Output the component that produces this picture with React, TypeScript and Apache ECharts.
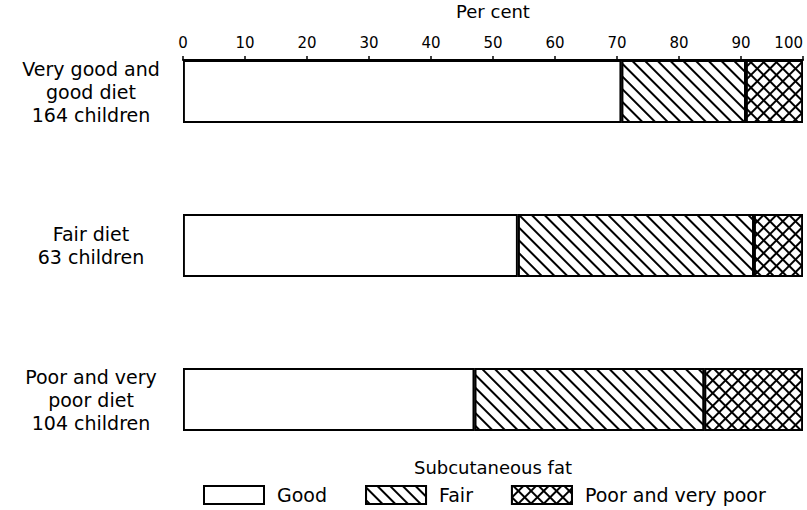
import React, { useEffect, useRef } from "react";
import * as echarts from "echarts";

const categories = [
  "Very good and\ngood diet\n164 children",
  "Fair diet\n63 children",
  "Poor and very\npoor diet\n104 children",
];
const seriesNames = ["Good", "Fair", "Poor and very poor"];
const good = [70.7, 54.0, 47.0];
const fair = [20.1, 38.1, 37.1];
const poor = [9.2, 7.9, 15.9];
const legendTitle = "Subcutaneous fat";
const axisTitle = "Per cent";

const FONT = "DejaVu Sans";

export default function App() {
  const ref = useRef<HTMLDivElement>(null);
  useEffect(() => {
    if (!ref.current) return;
    const chart = echarts.init(ref.current, null, { renderer: "svg" });
    const border = { borderColor: "#000", borderWidth: 1.9 };
    chart.setOption({
      animation: false,
      backgroundColor: "#fff",
      textStyle: { fontFamily: FONT, color: "#000" },
      grid: { left: 183, right: 4, top: 14.5, bottom: 33.5, outerBoundsMode: "none", containLabel: false },
      xAxis: {
        type: "value",
        position: "top",
        offset: -45.5,
        min: 0,
        max: 100,
        interval: 10,
        name: axisTitle,
        nameLocation: "middle",
        nameGap: 40,
        nameTextStyle: { fontSize: 18, color: "#000", fontFamily: FONT },
        axisLine: { show: true, lineStyle: { color: "#000", width: 2 } },
        axisTick: { show: true, length: 4, lineStyle: { color: "#000", width: 1.5 } },
        axisLabel: { color: "#000", fontSize: 15, margin: 10, fontFamily: FONT, alignMaxLabel: "right" },
        splitLine: { show: false },
      },
      yAxis: {
        type: "category",
        inverse: true,
        data: categories,
        axisLine: { show: false },
        axisTick: { show: false },
        axisLabel: {
          color: "#000",
          fontSize: 19,
          lineHeight: 23,
          align: "center",
          margin: 92,
          fontFamily: FONT,
        },
      },
      legend: {
        data: seriesNames,
        left: 203,
        top: 485,
        padding: 0,
        itemWidth: 60,
        itemHeight: 18,
        itemGap: 38,
        icon: "rect",
        textStyle: { fontSize: 19, color: "#000", fontFamily: FONT, padding: [0, 0, 0, 8] },
      },
      graphic: [
        {
          type: "text",
          x: 493,
          y: 467,
          style: {
            text: legendTitle,
            fontSize: 18,
            fontFamily: FONT,
            fill: "#000",
            textAlign: "center",
            textVerticalAlign: "middle",
          },
        },
      ],
      series: [
        {
          name: seriesNames[0],
          type: "bar",
          stack: "total",
          barWidth: 63,
          data: good,
          itemStyle: { color: "#fff", ...border },
        },
        {
          name: seriesNames[1],
          type: "bar",
          stack: "total",
          barWidth: 63,
          data: fair,
          itemStyle: {
            color: "#fff",
            ...border,
            decal: {
              symbol: "rect",
              symbolSize: 1,
              color: "#000",
              backgroundColor: "#fff",
              dashArrayX: [1, 0],
              dashArrayY: [1.7, 6.5],
              rotation: Math.PI / 4,
            },
          },
        },
        {
          name: seriesNames[2],
          type: "bar",
          stack: "total",
          barWidth: 63,
          data: poor,
          itemStyle: {
            color: "#000",
            ...border,
            decal: {
              symbol: "rect",
              symbolSize: 1,
              color: "#fff",
              backgroundColor: "#000",
              dashArrayX: [6.3, 1.7],
              dashArrayY: [6.3, 1.7],
              rotation: Math.PI / 4,
            },
          },
        },
      ],
    });
    return () => chart.dispose();
  }, []);
  return (
    <div
      ref={ref}
      style={{ position: "fixed", left: 0, top: 0, width: 807, height: 510 }}
    />
  );
}
